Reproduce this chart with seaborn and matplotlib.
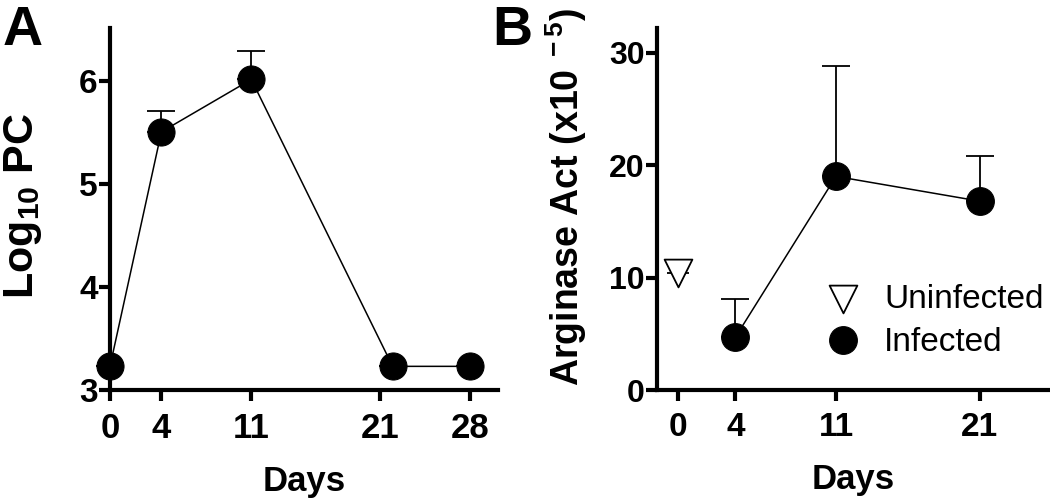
import numpy as np
import pandas as pd
import seaborn as sns
import matplotlib.pyplot as plt
from matplotlib.lines import Line2D

# Panel A: log10 parasite counts
days_a = [0, 4, 11, 22, 28]
logpc = [3.23, 5.51, 6.02, 3.23, 3.23]
logpc_err = [0, 0.20, 0.28, 0, 0]
ticks_a = [0, 4, 11, 21, 28]

# Panel B: arginase activity
days_b = [4, 11, 21]
arg_inf = [4.7, 19.0, 16.8]
arg_inf_err = [3.4, 9.8, 4.0]
day_uninf = [0]
arg_uninf = [10.4]
arg_uninf_err = [1.2]
ticks_b = [0, 4, 11, 21]

sns.set_theme(style="ticks")
plt.rcParams['font.family'] = ['Liberation Sans', 'DejaVu Sans']
plt.rcParams['mathtext.fontset'] = 'custom'
plt.rcParams['mathtext.rm'] = 'Liberation Sans:bold'
plt.rcParams['mathtext.it'] = 'Liberation Sans:bold'
plt.rcParams['mathtext.bf'] = 'Liberation Sans:bold'
for k in ('text.color', 'axes.labelcolor', 'xtick.color', 'ytick.color', 'axes.edgecolor'):
    plt.rcParams[k] = 'black'

f = plt.figure(figsize=(10.5, 5.04), dpi=100)
axA = f.add_axes([110/1050, 1-390/504, 388/1050, 362/504])
axB = f.add_axes([657/1050, 1-390/504, 393/1050, 362/504])

dfa = pd.DataFrame({'Days': days_a, 'PC': logpc})
axA.errorbar(days_a, logpc, yerr=[np.zeros(len(logpc_err)), logpc_err], fmt='none',
             ecolor='black', elinewidth=1.3, capsize=10, capthick=1.3, zorder=2, clip_on=False)
sns.lineplot(data=dfa, x='Days', y='PC', color='black', linewidth=1.1, marker='o',
             markersize=19.5, markeredgecolor='black', ax=axA, zorder=3, clip_on=False)
axA.set_xlim(0, 30.2)
axA.set_ylim(3, 6.52)
axA.set_xticks(ticks_a)
axA.set_yticks([3, 4, 5, 6])
axA.set_xlabel('Days', fontsize=25, fontweight='bold', labelpad=14)
axA.set_ylabel(r'Log$_{10}$ PC', fontsize=31, fontweight='bold')
axA.yaxis.set_label_coords(-0.17, 0.51)

dfb = pd.DataFrame({'Days': days_b, 'Arg': arg_inf})
axB.errorbar(days_b, arg_inf, yerr=[np.zeros(len(arg_inf_err)), arg_inf_err], fmt='none',
             ecolor='black', elinewidth=1.3, capsize=10, capthick=1.3, zorder=2, clip_on=False)
axB.errorbar(day_uninf, arg_uninf, yerr=[[0], arg_uninf_err], fmt='none',
             ecolor='black', elinewidth=1.3, capsize=8, capthick=1.3, zorder=2, clip_on=False)
sns.lineplot(data=dfb, x='Days', y='Arg', color='black', linewidth=1.1, marker='o',
             markersize=20, markeredgecolor='black', ax=axB, zorder=3, clip_on=False,
             label='Infected')
sns.scatterplot(x=day_uninf, y=arg_uninf, marker='v', s=400, facecolor='white',
                edgecolor='black', linewidth=1.3, ax=axB, zorder=3, label='Uninfected')
axB.set_xlim(-1.46, 25.9)
axB.set_ylim(0, 32.2)
axB.set_xticks(ticks_b)
axB.set_yticks([0, 10, 20, 30])
axB.set_xlabel('Days', fontsize=25, fontweight='bold', labelpad=14)
axB.set_ylabel(r'Arginase Act (x10$^{\ -5}$)', fontsize=27, fontweight='bold')
axB.yaxis.set_label_coords(-0.172, 0.534)

h, l = axB.get_legend_handles_labels()
leg = axB.legend(h[::-1], l[::-1], loc='center left', bbox_to_anchor=(0.43, 0.19),
                 frameon=False, fontsize=24, handlelength=1, handletextpad=0.75,
                 labelspacing=0.37, borderpad=0, borderaxespad=0)
for hd in leg.legend_handles:
    if isinstance(hd, Line2D):
        hd.set_linestyle('none')

for ax, xs, ys in ((axA, 25, 24), (axB, 24, 23)):
    sns.despine(ax=ax)
    for s in ('left', 'bottom'):
        ax.spines[s].set_linewidth(3)
    ax.tick_params(width=3, length=8)
    ax.tick_params(axis='x', labelsize=xs, pad=8)
    ax.tick_params(axis='y', labelsize=ys, pad=1)
    for t in ax.get_xticklabels() + ax.get_yticklabels():
        t.set_fontweight('bold')

f.text(3/1050, 1-45/504, 'A', fontsize=40, fontweight='bold')
f.text(492/1050, 1-45/504, 'B', fontsize=40, fontweight='bold')

f.savefig('out.png', dpi=100)
